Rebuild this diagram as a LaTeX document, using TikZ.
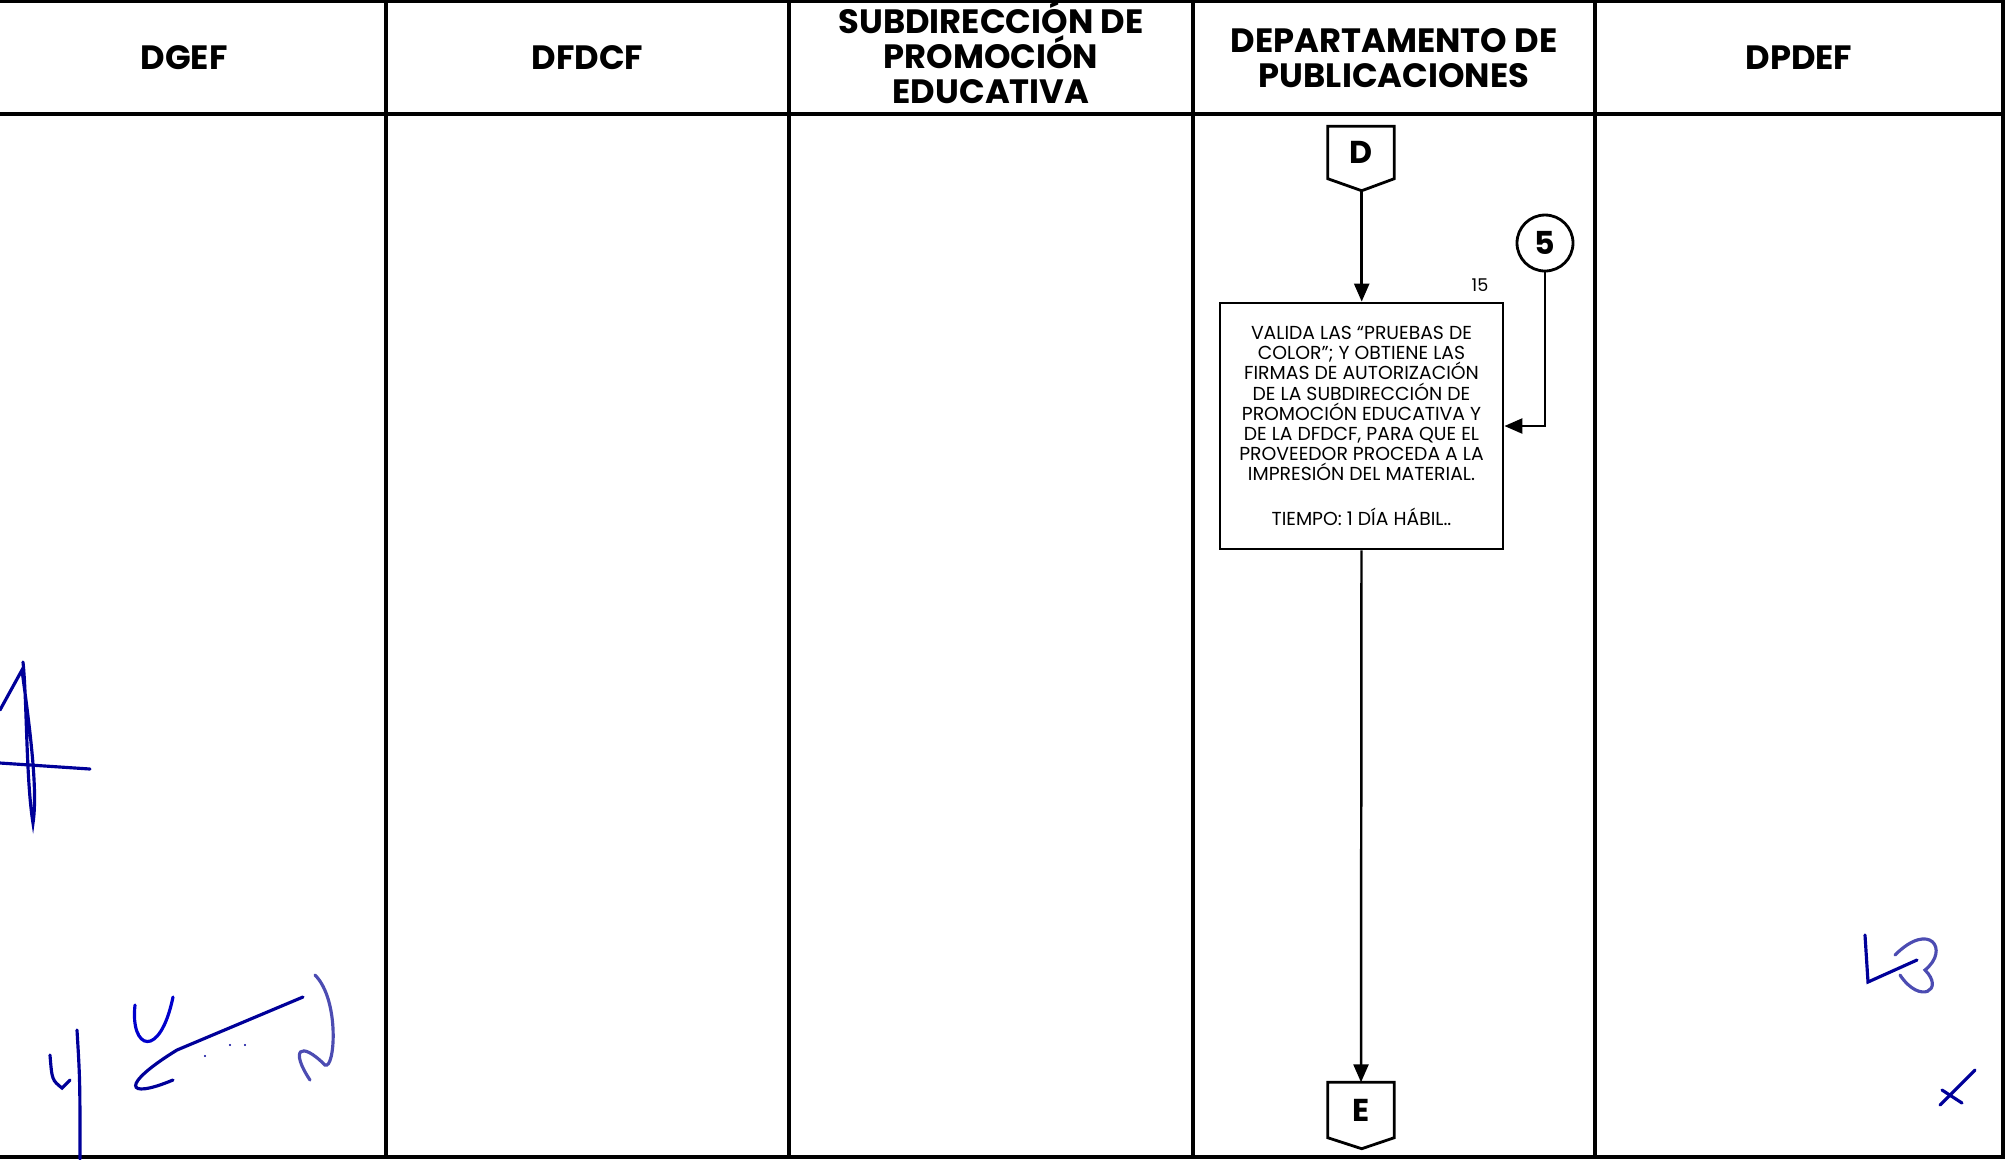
\documentclass[tikz,border=0pt]{standalone}
\usepackage{fontspec}
\setmainfont{Poppins}
\usetikzlibrary{arrows.meta, calc, positioning}

\begin{document}
\begin{tikzpicture}[>={Triangle[length=1.8mm,width=1.5mm]},
  lanehead/.style={align=center, font=\bfseries\fontsize{9.6}{9.9}\selectfont},
  actbox/.style={draw, line width=0.8pt, minimum width=2.83cm, minimum height=2.46cm,
    align=center, inner sep=0pt, font=\fontsize{5.35}{5.75}\selectfont},
  conn/.style={draw, circle, line width=0.8pt, minimum size=0.56cm, inner sep=0pt,
    font=\bfseries\fontsize{9}{9}\selectfont},
  letter/.style={minimum width=0.65cm, inner sep=0pt, font=\bfseries\fontsize{9}{9}\selectfont},
  flow/.style={->, line width=0.7pt},
  firma/.style={blue!60!black, line width=0.9pt, line cap=round}]
			\def\W{20.11}  % page width
			\def\H{11.59}  % page height
			\def\hy{1.14}  % bottom of the header row
			\useasboundingbox (0,0) rectangle (\W,-\H);
			
			% Lanes
			\draw[line width=0.9pt] (0,-0.01) -- (20.03,-0.01) -- (20.03,-11.57) -- (0,-11.57);
			\draw[line width=0.9pt] (0,-\hy) -- (20.03,-\hy);
			\foreach \x in {3.86,7.89,11.93,15.95}
				\draw[line width=0.9pt] (\x,-0.01) -- (\x,-11.57);
			
			% Lane titles
			\node[lanehead] (hdgef) at (1.84,-0.58) {DGEF};
			\node[lanehead] (hdfdcf) at (5.875,-0.58) {DFDCF};
			\node[lanehead] (hsub) at (9.91,-0.52) {SUBDIRECCIÓN DE\\PROMOCIÓN\\EDUCATIVA};
			\node[lanehead] (hpub) at (13.94,-0.58) {DEPARTAMENTO DE\\PUBLICACIONES};
			\node[lanehead] (hdpdef) at (17.99,-0.58) {DPDEF};
			
			% Off-page connector D
			\node[letter, minimum height=0.51cm] (offD) at (13.61,-1.525) {D};
			\draw[line width=0.8pt] (offD.north west) -- (offD.north east) -- (offD.south east)
				-- ++(-0.325,-0.12) coordinate (Dtip) -- (offD.south west) -- cycle;
			
			% Activity 15
			\node[actbox] (act15) at (13.615,-4.26) {%
				VALIDA LAS “PRUEBAS DE\\ COLOR”; Y OBTIENE LAS\\ FIRMAS DE AUTORIZACIÓN\\
				DE LA SUBDIRECCIÓN DE\\ PROMOCIÓN EDUCATIVA Y\\ DE LA DFDCF, PARA QUE EL\\
				PROVEEDOR PROCEDA A LA\\ IMPRESIÓN DEL MATERIAL.\\[7pt] TIEMPO: 1 DÍA HÁBIL..};
			\node[font=\fontsize{5}{5}\selectfont] (num15) at (14.80,-2.85) {15};
			
			% Connector 5
			\node[conn] (c5) at (15.45,-2.43) {5};
			
			% Off-page connector E
			\node[letter, minimum height=0.54cm] (offE) at (13.61,-11.10) {E};
			\draw[line width=0.8pt] (offE.north west) -- (offE.north east) -- (offE.south east)
				-- ++(-0.325,-0.11) -- (offE.south west) -- cycle;
			
			% Flow
			\draw[flow] (Dtip) -- (Dtip |- act15.north);
			\draw[flow] (c5.south) |- (act15.east);
			\draw[flow] (act15.south) -- (offE.north);
			
			% Signatures
			\draw[firma] (0,-7.10) -- (0.22,-6.70) .. controls (0.30,-7.30) and (0.38,-7.90) .. (0.33,-8.23)
				.. controls (0.26,-7.80) and (0.27,-7.00) .. (0.23,-6.62);
			\draw[firma] (0,-7.63) -- (0.90,-7.69);
			\draw[firma] (0.50,-10.55) .. controls (0.52,-10.80) .. (0.62,-10.88) -- (0.70,-10.80);
			\draw[firma] (0.77,-10.30) .. controls (0.80,-10.80) .. (0.80,-11.59);
			\draw[firma, blue!80!black] (1.73,-9.97) .. controls (1.60,-10.60) and (1.30,-10.50) .. (1.35,-10.05);
			\draw[firma] (3.03,-9.97) -- (1.77,-10.50) .. controls (1.20,-10.85) and (1.25,-11.00) .. (1.73,-10.80);
			\fill[blue!60!black] (2.30,-10.45) circle (0.012) (2.45,-10.45) circle (0.012) (2.05,-10.56) circle (0.012);
			\draw[firma, blue!40!gray] (3.15,-9.75) .. controls (3.40,-10.00) and (3.35,-10.70) .. (3.25,-10.65)
				.. controls (3.00,-10.40) and (2.90,-10.50) .. (3.10,-10.80);
			\draw[firma] (18.65,-9.35) -- (18.68,-9.82) -- (19.17,-9.60);
			\draw[firma, blue!40!gray] (18.95,-9.55) .. controls (19.30,-9.20) and (19.50,-9.50) .. (19.25,-9.70)
				.. controls (19.45,-9.90) and (19.20,-10.05) .. (19.00,-9.75);
			\draw[firma] (19.40,-11.05) -- (19.75,-10.70);
			\draw[firma] (19.42,-10.90) -- (19.62,-11.03);

	\end{tikzpicture}
\end{document}
